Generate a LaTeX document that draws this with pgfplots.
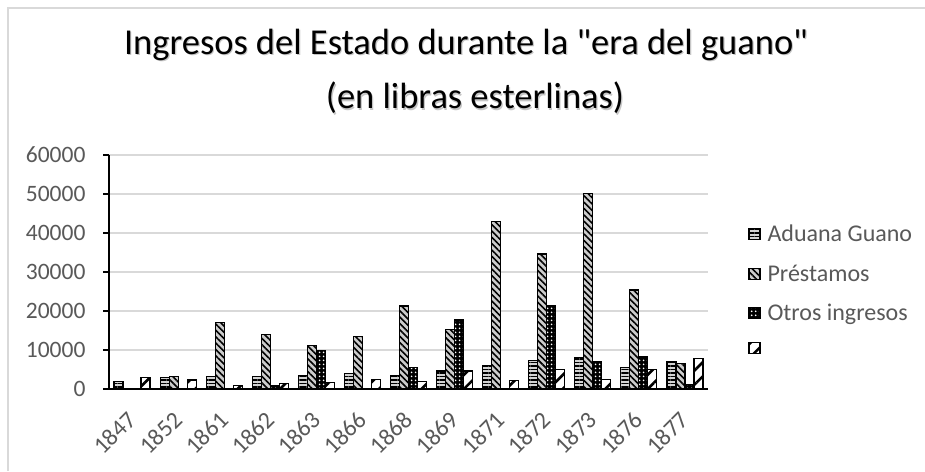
\documentclass[border=0pt]{standalone}
\usepackage{fontspec}
\setmainfont{Carlito}[Ligatures=TeXOff]
\usepackage{pgfplots}
\pgfplotsset{compat=1.18}
\usetikzlibrary{patterns.meta}
\definecolor{tickgray}{HTML}{595959}
\definecolor{gridgray}{HTML}{D9D9D9}
\begin{document}
\begin{tikzpicture}[x=1pt,y=1pt]
\useasboundingbox (0,0) rectangle (925,471);
\fill[white] (0,0) rectangle (925,471);
\draw[gridgray, line width=1.5pt] (8,0) -- (8,463) -- (925,463);
\node[font=\fontsize{36.5}{40}\selectfont, text=gray!45] at (467.2,424.8) {Ingresos del Estado durante la "era del guano"};
\node[font=\fontsize{36.5}{40}\selectfont, text=gray!45] at (476.2,371.8) {(en libras esterlinas)};
\node[font=\fontsize{36.5}{40}\selectfont] at (466,426) {Ingresos del Estado durante la "era del guano"};
\node[font=\fontsize{36.5}{40}\selectfont] at (475,373) {(en libras esterlinas)};
\begin{axis}[
  at={(109pt,82pt)}, anchor=south west,
  scale only axis, width=599pt, height=234pt,
  ybar=0pt, bar width=9pt,
  xmin=-0.5, xmax=12.5, ymin=0, ymax=60000,
  xtick={0,...,12},
  xticklabels={1847,1852,1861,1862,1863,1866,1868,1869,1871,1872,1873,1876,1877},
  ytick={0,10000,20000,30000,40000,50000,60000},
  scaled y ticks=false,
  /pgf/number format/1000 sep={},
  /pgf/number format/assume math mode=true,
  axis x line*=bottom, axis y line*=left,
  x axis line style={line width=2pt, -},
  y axis line style={line width=1.2pt, -},
  ymajorgrids, grid style={gridgray, line width=1.5pt},
  xtick style={draw=none},
  ytick style={black, line width=1.2pt},
  tick align=outside, major tick length=6pt,
  yticklabel style={font=\fontsize{23.5}{28}\selectfont, text=tickgray, anchor=east, xshift=-14pt},
  xticklabel style={font=\fontsize{24}{28}\selectfont, text=tickgray, xshift=-6pt, yshift=-10pt, rotate=45, anchor=north east},
  legend style={at={(1.062,0.718)}, anchor=north west, draw=none, fill=none,
    font=\fontsize{24}{28}\selectfont, text=tickgray, row sep=17.5pt},
  legend cell align=left,
  legend image code/.code={\draw[#1] (0pt,-5.5pt) rectangle (11pt,5.5pt);},
]
\addplot[draw=black, line width=1.2pt, fill=gray!35,
  postaction={pattern={Lines[angle=0,distance=3.5pt,line width=1.3pt]}, pattern color=black}]
  coordinates {(0,1900) (1,3000) (2,3200) (3,3200) (4,3500) (5,3900) (6,3500) (7,4600) (8,6100) (9,7400) (10,8100) (11,5600) (12,6900)};
\addlegendentry{\hspace{5pt}Aduana Guano}
\addplot[draw=black, line width=1.2pt, fill=gray!40,
  postaction={pattern={Lines[angle=-45,distance=4.5pt,line width=1.6pt]}, pattern color=black}]
  coordinates {(0,0) (1,3200) (2,17000) (3,14000) (4,11100) (5,13400) (6,21300) (7,15300) (8,42900) (9,34600) (10,50200) (11,25400) (12,6500)};
\addlegendentry{\hspace{5pt}Préstamos}
\addplot[draw=black, line width=1.2pt, fill=black,
  postaction={pattern={Dots[distance=4pt,radius=1.1pt]}, pattern color=white}]
  coordinates {(0,0) (1,0) (2,0) (3,1000) (4,9800) (5,0) (6,5500) (7,17700) (8,0) (9,21300) (10,7000) (11,8200) (12,1100)};
\addlegendentry{\hspace{5pt}Otros ingresos}
\addplot[draw=black, line width=1.2pt, fill=white,
  postaction={pattern={Lines[angle=45,distance=10pt,line width=2.6pt]}, pattern color=black}]
  coordinates {(0,2900) (1,2300) (2,1000) (3,1350) (4,1700) (5,2500) (6,1900) (7,4600) (8,2200) (9,4900) (10,2400) (11,5000) (12,7900)};
\addlegendentry{}
\end{axis}
\end{tikzpicture}
\end{document}
